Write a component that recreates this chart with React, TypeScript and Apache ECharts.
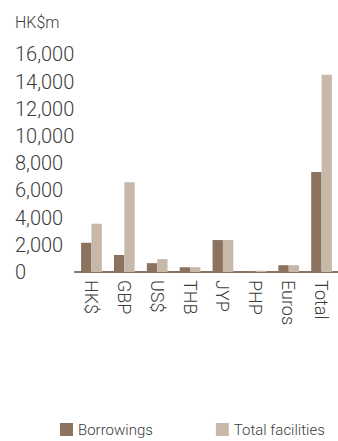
import React, { useEffect, useRef } from "react";
import * as echarts from "echarts";

const categories = ["HK$", "GBP", "US$", "THB", "JYP", "PHP", "Euros", "Total"];
const borrowings = [2150, 1250, 650, 350, 2350, 40, 500, 7350];
const totalFacilities = [3550, 6600, 950, 350, 2350, 90, 500, 14500];
const yTicks = { min: 0, max: 16000, interval: 2000 };
const unitLabel = "HK$m";

const FONT = "Roboto, 'Liberation Sans', Arial, sans-serif";
const WEIGHT = 300;
const TEXT = "#3c3c3c";
const DARK = "#8b7360";
const LIGHT = "#c7b8aa";

export default function App() {
  const ref = useRef<HTMLDivElement>(null);

  useEffect(() => {
    if (!ref.current) return;
    const chart = echarts.init(ref.current, undefined, { renderer: "svg" });
    chart.setOption({
      animation: false,
      textStyle: { fontFamily: FONT, fontWeight: WEIGHT },
      graphic: [
        {
          type: "text",
          left: 15,
          top: 14,
          style: { text: unitLabel, fontSize: 16, fill: TEXT, fontFamily: FONT, fontWeight: WEIGHT },
        },
      ],
      legend: {
        left: 60,
        top: 422,
        padding: 0,
        itemWidth: 13,
        itemHeight: 13,
        itemGap: 63,
        icon: "rect",
        textStyle: { fontSize: 15, color: TEXT, fontFamily: FONT, fontWeight: WEIGHT },
        data: ["Borrowings", "Total facilities"],
      },
      grid: { left: 75, right: -7, top: 54.4, bottom: 169, containLabel: false },
      xAxis: {
        type: "category",
        data: categories,
        axisLine: { show: true, lineStyle: { color: DARK, width: 2 } },
        axisTick: { show: false },
        axisLabel: {
          rotate: -90,
          margin: 8,
          fontSize: 18,
          color: TEXT,
          fontFamily: FONT,
          fontWeight: WEIGHT,
          interval: 0,
        },
      },
      yAxis: {
        type: "value",
        min: yTicks.min,
        max: yTicks.max,
        interval: yTicks.interval,
        axisLine: { show: false },
        axisTick: { show: false },
        splitLine: { show: false },
        axisLabel: {
          align: "left",
          margin: 60,
          fontSize: 20,
          color: TEXT,
          fontFamily: FONT,
          fontWeight: WEIGHT,
          formatter: (v: number) => v.toLocaleString("en-US"),
        },
      },
      series: [
        {
          name: "Borrowings",
          type: "bar",
          data: borrowings,
          itemStyle: { color: DARK },
          barGap: "0%",
          barCategoryGap: "37%",
        },
        {
          name: "Total facilities",
          type: "bar",
          data: totalFacilities,
          itemStyle: { color: LIGHT },
          barGap: "0%",
          barCategoryGap: "37%",
        },
      ],
    });
    return () => chart.dispose();
  }, []);

  return (
    <div
      ref={ref}
      style={{ position: "fixed", left: 0, top: 0, width: 338, height: 441, background: "#fff" }}
    />
  );
}
